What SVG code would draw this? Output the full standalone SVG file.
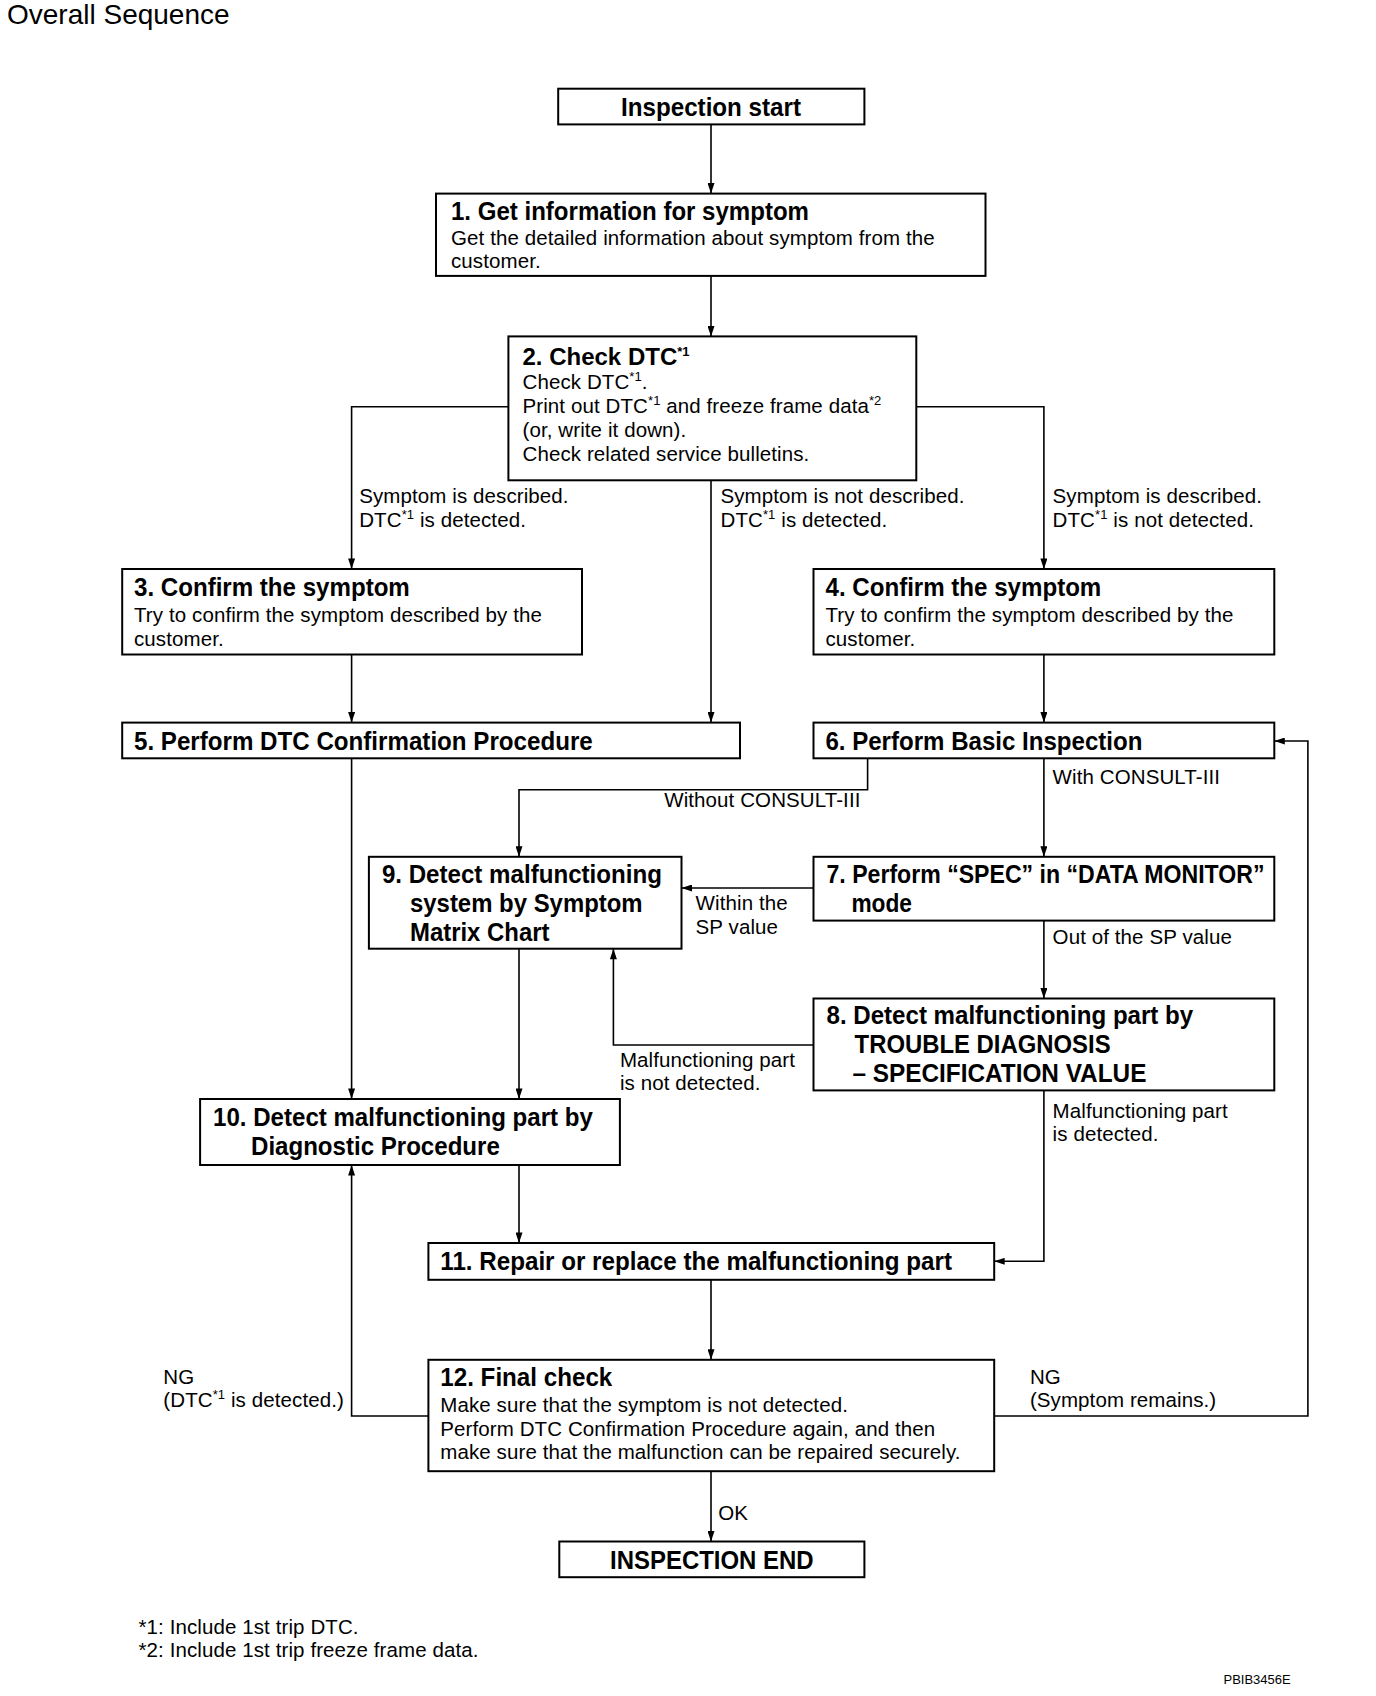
<svg xmlns="http://www.w3.org/2000/svg" width="1376" height="1696" viewBox="0 0 1376 1696">
<style>
.box{fill:#fff;stroke:#000;stroke-width:2}
text{font-family:"Liberation Sans",Arial,Helvetica,sans-serif;fill:#000}
.t{font-size:20.5px;letter-spacing:0.1px}
.b{font-size:25.5px;font-weight:bold}
.sup{font-size:13px}
.c{fill:none;stroke:#000;stroke-width:1.6}
</style>
<defs>
<marker id="ah" viewBox="0 0 12 8" refX="12" refY="4" markerWidth="12" markerHeight="7" markerUnits="userSpaceOnUse" orient="auto">
<path d="M0,0 L12,4 L0,8 z" fill="#000"/>
</marker>
</defs>
<rect width="1376" height="1696" fill="#fff"/>
<text x="7" y="24" style="font-size:28px">Overall Sequence</text>

<g id="connectors">
<path class="c" marker-end="url(#ah)" d="M711,124.4 V193.6"/>
<path class="c" marker-end="url(#ah)" d="M711,276 V336.4"/>
<path class="c" marker-end="url(#ah)" d="M508.4,406.7 H351.6 V569"/>
<path class="c" marker-end="url(#ah)" d="M711,480.3 V722.6"/>
<path class="c" marker-end="url(#ah)" d="M916.3,406.7 H1043.9 V569"/>
<path class="c" marker-end="url(#ah)" d="M351.6,654.5 V722.6"/>
<path class="c" marker-end="url(#ah)" d="M1043.9,654.5 V722.6"/>
<path class="c" marker-end="url(#ah)" d="M351.6,758.3 V1099"/>
<path class="c" marker-end="url(#ah)" d="M867.6,758.3 V789.7 H519 V856.8"/>
<path class="c" marker-end="url(#ah)" d="M1043.9,758.3 V856.8"/>
<path class="c" marker-end="url(#ah)" d="M813.5,888 H681.5"/>
<path class="c" marker-end="url(#ah)" d="M1043.9,920.6 V998.5"/>
<path class="c" marker-end="url(#ah)" d="M813.5,1045 H613.4 V948.7"/>
<path class="c" marker-end="url(#ah)" d="M519,948.7 V1099"/>
<path class="c" marker-end="url(#ah)" d="M1043.9,1090.4 V1261.3 H994.2"/>
<path class="c" marker-end="url(#ah)" d="M519,1165 V1243"/>
<path class="c" marker-end="url(#ah)" d="M711,1279.8 V1359.8"/>
<path class="c" marker-end="url(#ah)" d="M428.4,1416 H351.6 V1165"/>
<path class="c" marker-end="url(#ah)" d="M994.2,1416 H1307.9 V741 H1274.3"/>
<path class="c" marker-end="url(#ah)" d="M711,1471.2 V1541.5"/>
</g>

<g id="labels">
<text class="t" x="359.2" y="503">Symptom is described.</text>
<text class="t" x="359.2" y="526.8">DTC<tspan class="sup" dy="-8">*1</tspan><tspan dy="8"> is detected.</tspan></text>
<text class="t" x="720.5" y="503">Symptom is not described.</text>
<text class="t" x="720.5" y="526.8">DTC<tspan class="sup" dy="-8">*1</tspan><tspan dy="8"> is detected.</tspan></text>
<text class="t" x="1052.6" y="503">Symptom is described.</text>
<text class="t" x="1052.6" y="526.8">DTC<tspan class="sup" dy="-8">*1</tspan><tspan dy="8"> is not detected.</tspan></text>
<text class="t" x="664.2" y="807">Without CONSULT-III</text>
<text class="t" x="1052.6" y="784.3">With CONSULT-III</text>
<text class="t" x="695.6" y="909.8">Within the</text>
<text class="t" x="695.6" y="933.6">SP value</text>
<text class="t" x="1052.6" y="944.4">Out of the SP value</text>
<text class="t" x="619.9" y="1066.6">Malfunctioning part</text>
<text class="t" x="619.9" y="1090.4">is not detected.</text>
<text class="t" x="1052.6" y="1117.5">Malfunctioning part</text>
<text class="t" x="1052.6" y="1141">is detected.</text>
<text class="t" x="163.3" y="1383.6">NG</text>
<text class="t" x="163.3" y="1407.4">(DTC<tspan class="sup" dy="-8">*1</tspan><tspan dy="8"> is detected.)</tspan></text>
<text class="t" x="1029.9" y="1383.6">NG</text>
<text class="t" x="1029.9" y="1407.4">(Symptom remains.)</text>
<text class="t" x="718.3" y="1520">OK</text>
</g>

<g id="start">
<rect class="box" x="558.2" y="88.7" width="306.2" height="35.7"/>
<text class="b" x="711" y="115.8" text-anchor="middle" textLength="180" lengthAdjust="spacingAndGlyphs">Inspection start</text>
</g>

<g id="n1">
<rect class="box" x="436" y="193.6" width="549.5" height="82.3"/>
<text class="b" x="451" y="219.6" textLength="358" lengthAdjust="spacingAndGlyphs">1. Get information for symptom</text>
<text class="t" x="451" y="244.5">Get the detailed information about symptom from the</text>
<text class="t" x="451" y="268.3">customer.</text>
</g>

<g id="n2">
<rect class="box" x="508.4" y="336.4" width="407.9" height="143.9"/>
<text class="b" x="522.5" y="364.6" style="font-size:24px">2. Check DTC<tspan class="sup" dy="-9">*1</tspan></text>
<text class="t" x="522.5" y="389.4">Check DTC<tspan class="sup" dy="-8">*1</tspan><tspan dy="8">.</tspan></text>
<text class="t" x="522.5" y="413.2">Print out DTC<tspan class="sup" dy="-8">*1</tspan><tspan dy="8"> and freeze frame data</tspan><tspan class="sup" dy="-8">*2</tspan></text>
<text class="t" x="522.5" y="437">(or, write it down).</text>
<text class="t" x="522.5" y="460.8">Check related service bulletins.</text>
</g>

<g id="n3">
<rect class="box" x="122.2" y="569" width="459.8" height="85.5"/>
<text class="b" x="134" y="596" textLength="275.8" lengthAdjust="spacingAndGlyphs">3. Confirm the symptom</text>
<text class="t" x="134" y="622">Try to confirm the symptom described by the</text>
<text class="t" x="134" y="645.8">customer.</text>
</g>

<g id="n4">
<rect class="box" x="813.5" y="569" width="460.8" height="85.5"/>
<text class="b" x="825.5" y="596" textLength="275.8" lengthAdjust="spacingAndGlyphs">4. Confirm the symptom</text>
<text class="t" x="825.5" y="622">Try to confirm the symptom described by the</text>
<text class="t" x="825.5" y="645.8">customer.</text>
</g>

<g id="n5">
<rect class="box" x="122.2" y="722.6" width="617.8" height="35.7"/>
<text class="b" x="134" y="749.7" textLength="458.7" lengthAdjust="spacingAndGlyphs">5. Perform DTC Confirmation Procedure</text>
</g>

<g id="n6">
<rect class="box" x="813.5" y="722.6" width="460.8" height="35.7"/>
<text class="b" x="825.4" y="749.7" textLength="317" lengthAdjust="spacingAndGlyphs">6. Perform Basic Inspection</text>
</g>

<g id="n7">
<rect class="box" x="813.5" y="856.8" width="460.8" height="63.8"/>
<text class="b" x="826.5" y="882.7" textLength="438" lengthAdjust="spacingAndGlyphs">7. Perform “SPEC” in “DATA MONITOR”</text>
<text class="b" x="851.4" y="912" textLength="60.6" lengthAdjust="spacingAndGlyphs">mode</text>
</g>

<g id="n8">
<rect class="box" x="813.5" y="998.5" width="460.8" height="91.9"/>
<text class="b" x="826.5" y="1024.4" textLength="366.7" lengthAdjust="spacingAndGlyphs">8. Detect malfunctioning part by</text>
<text class="b" x="854.6" y="1052.6" textLength="256" lengthAdjust="spacingAndGlyphs">TROUBLE DIAGNOSIS</text>
<text class="b" x="852.4" y="1081.8" textLength="294" lengthAdjust="spacingAndGlyphs">– SPECIFICATION VALUE</text>
</g>

<g id="n9">
<rect class="box" x="368.9" y="856.8" width="312.6" height="91.9"/>
<text class="b" x="381.9" y="882.7" textLength="280" lengthAdjust="spacingAndGlyphs">9. Detect malfunctioning</text>
<text class="b" x="410" y="912" textLength="232.6" lengthAdjust="spacingAndGlyphs">system by Symptom</text>
<text class="b" x="410" y="941" textLength="139.5" lengthAdjust="spacingAndGlyphs">Matrix Chart</text>
</g>

<g id="n10">
<rect class="box" x="200.1" y="1099" width="419.8" height="66"/>
<text class="b" x="213.1" y="1126" textLength="379.7" lengthAdjust="spacingAndGlyphs">10. Detect malfunctioning part by</text>
<text class="b" x="251" y="1155" textLength="248.8" lengthAdjust="spacingAndGlyphs">Diagnostic Procedure</text>
</g>

<g id="n11">
<rect class="box" x="428.4" y="1243" width="565.8" height="36.8"/>
<text class="b" x="440.3" y="1270" textLength="511.7" lengthAdjust="spacingAndGlyphs">11. Repair or replace the malfunctioning part</text>
</g>

<g id="n12">
<rect class="box" x="428.4" y="1359.8" width="565.8" height="111.4"/>
<text class="b" x="440.3" y="1385.8" textLength="172" lengthAdjust="spacingAndGlyphs">12. Final check</text>
<text class="t" x="440.3" y="1411.7">Make sure that the symptom is not detected.</text>
<text class="t" x="440.3" y="1435.5">Perform DTC Confirmation Procedure again, and then</text>
<text class="t" x="440.3" y="1459.3">make sure that the malfunction can be repaired securely.</text>
</g>

<g id="end">
<rect class="box" x="559.3" y="1541.5" width="305.1" height="35.7"/>
<text class="b" x="711.8" y="1568.6" text-anchor="middle" textLength="203.4" lengthAdjust="spacingAndGlyphs">INSPECTION END</text>
</g>

<g id="notes">
<text class="t" x="138.5" y="1633.5">*1: Include 1st trip DTC.</text>
<text class="t" x="138.5" y="1657.3">*2: Include 1st trip freeze frame data.</text>
<text x="1223.5" y="1684.3" style="font-size:13px">PBIB3456E</text>
</g>
</svg>
